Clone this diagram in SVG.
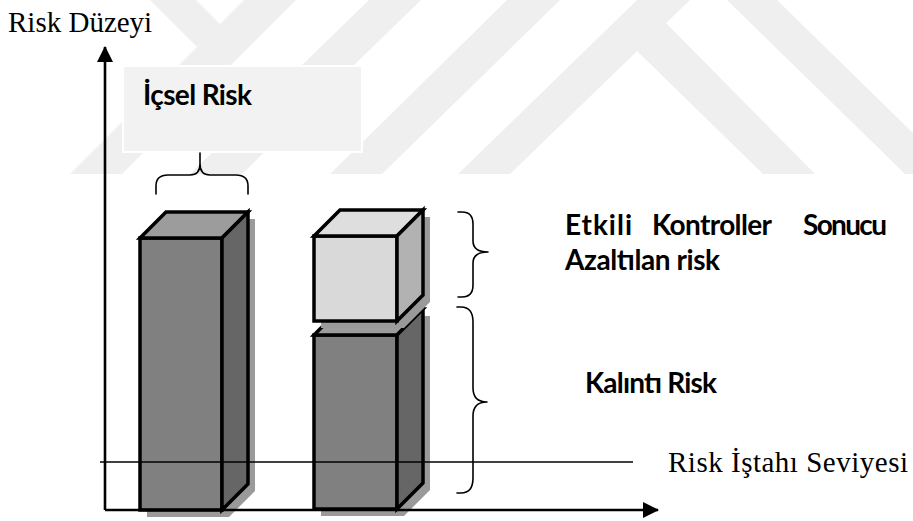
<svg xmlns="http://www.w3.org/2000/svg" width="913" height="521" viewBox="0 0 913 521">
  <defs>
    <marker id="arrow" viewBox="0 0 16 16" refX="15" refY="8" markerWidth="16" markerHeight="16" markerUnits="userSpaceOnUse" orient="auto">
      <path d="M0,0 L16,8 L0,16 Z" fill="#000"/>
    </marker>
  </defs>
  <style>
    .wm { fill: #efefef; stroke: none; }
    .edge { stroke: #000; stroke-width: 3.5; stroke-linejoin: miter; }
    .shadow { fill: #9a9a9a; stroke: none; }
    .dark-front { fill: #808080; }
    .dark-top { fill: #9c9c9c; }
    .dark-side { fill: #666666; }
    .light-front { fill: #d9d9d9; }
    .light-top { fill: #dedede; }
    .light-side { fill: #b2b2b2; }
    .brace { fill: none; stroke: #000; stroke-width: 1.6; stroke-linejoin: round; stroke-linecap: round; }
    .axis { fill: none; stroke: #000; stroke-width: 2.6; }
    .serif { font-family: "Liberation Serif", "Times New Roman", serif; font-size: 29px; fill: #000; }
    .label { font-family: Lato, "Noto Sans", sans-serif; font-weight: bold; font-size: 28px; fill: #000; }
  </style>

  <!-- faint background chevrons -->
  <g id="background">
    <polygon class="wm" points="150,0 196,0 220,24 197,47"/>
    <polygon class="wm" points="244,0 296,0 122,174 70,174"/>
    <polygon class="wm" points="369,0 421,0 242,174 190,174"/>
    <polygon class="wm" points="507,0 560,0 382,174 330,174"/>
    <polygon class="wm" points="637,0 690,0 510,174 458,174"/>
    <polygon class="wm" points="637,51 665,22 815,174 763,174"/>
    <polygon class="wm" points="727,0 777,0 955,174 905,174"/>
  </g>

  <!-- label box for the inherent risk -->
  <g id="inherent-label">
    <rect x="123" y="66" width="239" height="86" fill="#f2f2f2" stroke="#ffffff" stroke-width="2"/>
    <text class="label" x="143" y="105" textLength="109">İçsel Risk</text>
  </g>

  <!-- inherent risk bar -->
  <g id="bar-inherent">
    <polygon class="shadow" points="147,245 173,219 255,219 255,491 229,517 147,517"/>
    <rect class="dark-front edge" x="140" y="238" width="82" height="272"/>
    <polygon class="dark-top edge" points="140,238 166,212 248,212 222,238"/>
    <polygon class="dark-side edge" points="222,238 248,212 248,484 222,510"/>
  </g>

  <!-- residual risk bar -->
  <g id="bar-residual">
    <polygon class="shadow" points="321,342 347,316 430,316 430,490 404,516 321,516"/>
    <rect class="dark-front edge" x="314" y="335" width="83" height="174"/>
    <polygon class="dark-top edge" points="314,335 340,309 423,309 397,335"/>
    <polygon class="dark-side edge" points="397,335 423,309 423,483 397,509"/>
  </g>

  <!-- risk reduced by effective controls -->
  <g id="bar-reduced">
    <polygon class="shadow" points="321,243 347,217 430,217 430,302 404,328 321,328"/>
    <rect class="light-front edge" x="314" y="236" width="83" height="85"/>
    <polygon class="light-top edge" points="314,236 340,210 423,210 397,236"/>
    <polygon class="light-side edge" points="397,236 423,210 423,295 397,321"/>
  </g>

  <!-- connectors: axes, appetite level and braces -->
  <g id="connectors">
    <line class="axis" x1="105" y1="510" x2="105" y2="47" marker-end="url(#arrow)"/>
    <line class="axis" x1="105" y1="510" x2="658" y2="510" marker-end="url(#arrow)"/>
    <line x1="100" y1="462" x2="633" y2="462" stroke="#000" stroke-width="1.5"/>
    <path class="brace" d="M156,194 L156,186 C156,179 160,175 168,175 L190,175 C197,175 200,171 200,164 L200,153 M200,164 C200,171 203,175 210,175 L236,175 C244,175 248,179 248,186 L248,194"/>
    <path class="brace" d="M458,212 L462,212 C469,212 473,216 473,224 L473,241 C473,248 477,252 488,252 C477,252 473,256 473,263 L473,285 C473,293 469,297 462,297 L458,297"/>
    <path class="brace" d="M457,307 L461,307 C469,307 473,312 473,322 L473,388 C473,397 477,402 487,402 C477,402 473,407 473,416 L473,478 C473,488 469,493 461,493 L457,493"/>
  </g>

  <!-- text labels -->
  <g id="labels">
    <text class="serif" x="8" y="32">Risk Düzeyi</text>
    <text class="serif" x="668" y="472" textLength="240">Risk İştahı Seviyesi</text>
    <text class="label" x="565" y="235" textLength="67">Etkili</text>
    <text class="label" x="652" y="235" textLength="120">Kontroller</text>
    <text class="label" x="803" y="235" textLength="84">Sonucu</text>
    <text class="label" x="565" y="270" textLength="155">Azaltılan risk</text>
    <text class="label" x="585" y="393" textLength="132">Kalıntı Risk</text>
  </g>
</svg>
